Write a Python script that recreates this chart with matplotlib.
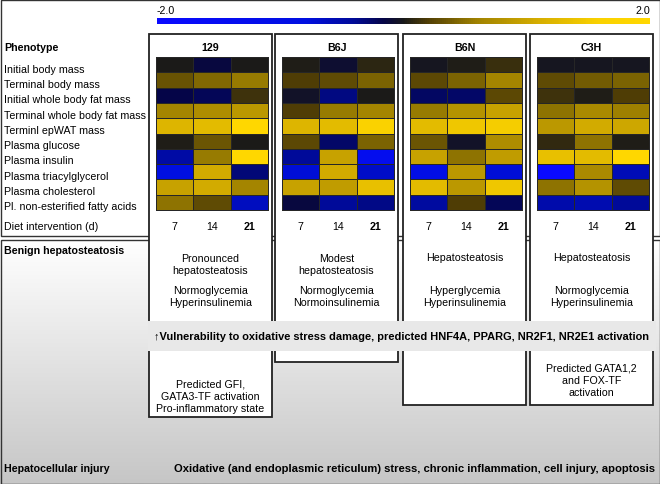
import matplotlib
matplotlib.use('Agg')
import matplotlib.pyplot as plt
import numpy as np
from matplotlib.colors import LinearSegmentedColormap, Normalize
from matplotlib.patches import Rectangle
from matplotlib.cm import ScalarMappable

plt.rcParams['font.family'] = ['Liberation Sans', 'DejaVu Sans']

# --- Data ---
strains = ['129', 'B6J', 'B6N', 'C3H']
days = ['7', '14', '21']
phenotypes = ['Initial body mass', 'Terminal body mass', 'Initial whole body fat mass',
              'Terminal whole body fat mass', 'Terminl epWAT mass', 'Plasma glucose',
              'Plasma insulin', 'Plasma triacylglycerol', 'Plasma cholesterol',
              'Pl. non-esterified fatty acids']

# rows = phenotypes, cols = day 7, 14, 21 (colour scale -2..2)
vals_129 = [[0.0, -0.13, 0.0],
            [0.32, 0.45, 0.55],
            [-0.17, -0.21, 0.13],
            [0.64, 0.73, 0.85],
            [1.2, 1.28, 2.0],
            [0.03, 0.33, 0.0],
            [-0.48, 0.56, 2.0],
            [-0.8, 1.07, -0.31],
            [0.96, 1.07, 0.64],
            [0.5, 0.28, -0.61]]
vals_b6j = [[0.03, -0.09, 0.07],
            [0.2, 0.28, 0.42],
            [-0.05, -0.34, 0.0],
            [0.2, 0.56, 0.64],
            [1.2, 1.28, 1.6],
            [0.25, -0.26, 0.42],
            [-0.42, 0.96, -1.3],
            [-0.74, 1.07, -0.67],
            [0.96, 0.9, 1.35],
            [-0.13, -0.42, -0.35]]
vals_b6n = [[-0.03, 0.03, 0.11],
            [0.25, 0.42, 0.64],
            [-0.24, -0.26, 0.25],
            [0.56, 0.79, 0.96],
            [1.28, 1.44, 1.52],
            [0.33, -0.05, 0.73],
            [0.96, 0.5, 0.9],
            [-1.0, 0.85, -0.74],
            [1.28, 0.85, 1.44],
            [-0.45, 0.2, -0.21]]
vals_c3h = [[-0.03, -0.03, -0.03],
            [0.28, 0.37, 0.42],
            [0.13, 0.03, 0.2],
            [0.5, 0.69, 0.59],
            [0.85, 1.07, 1.02],
            [0.09, 0.5, 0.03],
            [1.35, 1.28, 2.0],
            [-2.0, 0.69, -0.57],
            [0.5, 0.79, 0.28],
            [-0.51, -0.54, -0.42]]

steatosis_text = ['Pronounced\nhepatosteatosis', 'Modest\nhepatosteatosis',
                  'Hepatosteatosis', 'Hepatosteatosis']
glyc_text = ['Normoglycemia\nHyperinsulinemia', 'Normoglycemia\nNormoinsulinemia',
             'Hyperglycemia\nHyperinsulinemia', 'Normoglycemia\nHyperinsulinemia']
tf_text = ['Predicted GFI,\nGATA3-TF activation\nPro-inflammatory state', '', '',
           'Predicted GATA1,2\nand FOX-TF\nactivation']

# --- Layout (pixel coords) ---
W, H = 660, 485
panel_x = [149, 275, 403, 530]
panel_w = 123
panel_top = 35
panel_bottom = [418, 363, 406, 406]
heat_top, heat_bot = 58, 211
heat_l, heat_w = 7, 112
FS = 7.7

cmap = LinearSegmentedColormap.from_list('by', [
    (0.00, '#0a0aff'), (0.30, '#000fe1'), (0.40, '#000a96'), (0.46, '#050546'),
    (0.50, '#191919'), (0.55, '#503e05'), (0.65, '#a08200'), (0.78, '#d7af00'),
    (0.90, '#fad200'), (1.00, '#ffd700')])
norm = Normalize(-2, 2)

fig = plt.figure(figsize=(6.6, 4.85), dpi=100)
ax = fig.add_axes([0, 0, 1, 1])
ax.set_xlim(0, W)
ax.set_ylim(H, 0)
ax.axis('off')

# lower section gradient background
grad = np.linspace(0, 1, 200).reshape(-1, 1)
ax.imshow(grad, extent=[0, W, H, 241], cmap=LinearSegmentedColormap.from_list('g', ['#ffffff', '#c6c6c6']),
          aspect='auto', zorder=0)

# section borders
ax.add_patch(Rectangle((0.5, 0.5), W - 1, 236.5, fill=False, ec='#333333', lw=1.0, zorder=1))
ax.add_patch(Rectangle((0.5, 241), W - 1, H - 241.5, fill=False, ec='#333333', lw=1.0, zorder=1))

# colorbar
cax = fig.add_axes([157 / W, 1 - 25 / H, (650 - 157) / W, 6 / H])
cb = fig.colorbar(ScalarMappable(norm=norm, cmap=cmap), cax=cax, orientation='horizontal')
cb.outline.set_visible(False)
cax.set_xticks([])
ax.text(157, 11, '-2.0', fontsize=FS, ha='left', va='center')
ax.text(650, 11, '2.0', fontsize=FS, ha='right', va='center')

# left labels
ax.text(4, 48, 'Phenotype', fontsize=FS, fontweight='bold', va='center')
row_h = (heat_bot - heat_top) / len(phenotypes)
for i, lab in enumerate(phenotypes):
    ax.text(4, heat_top + (i + 0.5) * row_h + 4, lab, fontsize=FS, va='center')
ax.text(4, 227, 'Diet intervention (d)', fontsize=FS, va='center')
ax.text(4, 251, 'Benign hepatosteatosis', fontsize=FS, fontweight='bold', va='center')
ax.text(4, 469, 'Hepatocellular injury', fontsize=FS, fontweight='bold', va='center')
ax.text(415, 469, 'Oxidative (and endoplasmic reticulum) stress, chronic inflammation, cell injury, apoptosis',
        fontsize=8.1, fontweight='bold', ha='center', va='center')

# strain panels
all_vals = [vals_129, vals_b6j, vals_b6n, vals_c3h]
for k, name in enumerate(strains):
    x0 = panel_x[k]
    cx = x0 + panel_w / 2
    ax.add_patch(Rectangle((x0, panel_top), panel_w, panel_bottom[k] - panel_top,
                           fc='white', ec='#222222', lw=1.3, zorder=2))
    ax.text(cx, 48, name, fontsize=FS, fontweight='bold', ha='center', va='center', zorder=6)
    xe = np.linspace(x0 + heat_l, x0 + heat_l + heat_w, len(days) + 1)
    ye = np.linspace(heat_top, heat_bot, len(phenotypes) + 1)
    ax.pcolormesh(xe, ye, np.array(all_vals[k]), cmap=cmap, norm=norm,
                  edgecolors='#262626', linewidth=0.7, zorder=3)
    for j, d in enumerate(days):
        ax.text((xe[j] + xe[j + 1]) / 2, 227, d, fontsize=FS, ha='center', va='center',
                fontweight='bold' if j == 2 else 'normal', zorder=6)
    ax.text(cx, 265 if '\n' in steatosis_text[k] else 258, steatosis_text[k], fontsize=FS,
            ha='center', va='center', linespacing=1.3, zorder=6)
    ax.text(cx, 297, glyc_text[k], fontsize=FS, ha='center', va='center', linespacing=1.3, zorder=6)
    if tf_text[k]:
        ty = 397 if k == 0 else 381
        ax.text(cx, ty, tf_text[k], fontsize=FS, ha='center', va='center', linespacing=1.3, zorder=6)

# shared band
ax.add_patch(Rectangle((148, 322), 508, 30, fc='#e8e8e8', ec='none', zorder=4))
ax.text(401, 337, '\u2191Vulnerability to oxidative stress damage, predicted HNF4A, PPARG, NR2F1, NR2E1 activation',
        fontsize=7.9, fontweight='bold', ha='center', va='center', zorder=6)

fig.savefig('out.png', dpi=100)
